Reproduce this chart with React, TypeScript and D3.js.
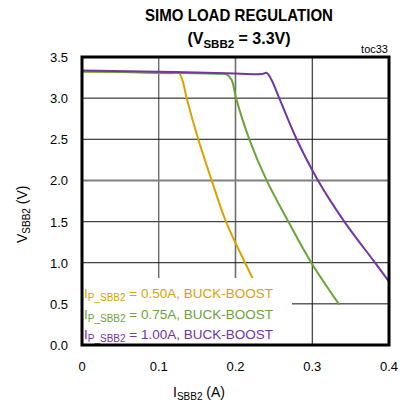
import React from "react";
import * as d3 from "d3";

const xTicks = [0, 0.1, 0.2, 0.3, 0.4];
const yTicks = [0, 0.5, 1.0, 1.5, 2.0, 2.5, 3.0, 3.5];

const i050 = [0, 0.05, 0.1, 0.118, 0.1255, 0.1308, 0.1364, 0.1515, 0.169, 0.1876, 0.2124, 0.2224];
const v050 = [3.322, 3.317, 3.307, 3.302, 3.316, 3.22, 3.0, 2.5, 2.0, 1.5, 1.0, 0.81];

const i075 = [0, 0.1, 0.18, 0.1885, 0.195, 0.2007, 0.218, 0.2406, 0.2688, 0.2988, 0.3353];
const v075 = [3.325, 3.31, 3.297, 3.29, 3.22, 3.0, 2.5, 2.0, 1.5, 1.0, 0.49];

const i100 = [0, 0.1, 0.2, 0.234, 0.2406, 0.247, 0.257, 0.2797, 0.3075, 0.3418, 0.3818, 0.4];
const v100 = [3.337, 3.32, 3.30, 3.292, 3.307, 3.22, 3.0, 2.5, 2.0, 1.5, 1.0, 0.77];

const seriesLabels = ["= 0.50A, BUCK-BOOST", "= 0.75A, BUCK-BOOST", "= 1.00A, BUCK-BOOST"];
const colors = ["#D9A300", "#6BA436", "#7334A4"];

export default function App() {
  const W = 400, H = 404;
  const x = d3.scaleLinear().domain([0, 0.4]).range([82, 389]);
  const y = d3.scaleLinear().domain([0, 3.5]).range([345, 57]);
  const line = d3
    .line<[number, number]>()
    .x((d) => x(d[0]))
    .y((d) => y(d[1]))
    .curve(d3.curveCatmullRom.alpha(0.5));
  const series = [
    { i: i050, v: v050 },
    { i: i075, v: v075 },
    { i: i100, v: v100 },
  ];
  const gridX: Record<string, [string, number]> = {
    "0.1": ["#555", 1.2],
    "0.2": ["#6e6e6e", 1.6],
    "0.3": ["#111", 1],
  };
  const gridY: Record<string, [string, number]> = {
    "0.5": ["#111", 1],
    "1.0": ["#111", 1],
    "1.5": ["#444", 1.2],
    "2.0": ["#808080", 2],
    "2.5": ["#111", 1],
    "3.0": ["#111", 1],
  };
  const font = "'Liberation Sans', Arial, sans-serif";
  return (
    <svg width={W} height={H} style={{ position: "absolute", left: 0, top: 0 }} fontFamily={font}>
      <rect width={W} height={H} fill="#fff" />
      <text x={239} y={21} textAnchor="middle" fontSize={17} fontWeight="bold" textLength={188} lengthAdjust="spacingAndGlyphs">
        SIMO LOAD REGULATION
      </text>
      <text x={239} y={44} textAnchor="middle" fontSize={16} fontWeight="bold">
        (V<tspan fontSize={11.5} dy={4}>SBB2</tspan>
        <tspan dy={-4}> = 3.3V)</tspan>
      </text>
      <text x={388} y={53} textAnchor="end" fontSize={11}>
        toc33
      </text>
      {/* grid */}
      {xTicks.slice(1, -1).map((t) => {
        const [c, w] = gridX[t.toFixed(1)];
        return <line key={"gx" + t} x1={x(t)} x2={x(t)} y1={y(3.5)} y2={y(0)} stroke={c} strokeWidth={w} />;
      })}
      {yTicks.slice(1, -1).map((t) => {
        const [c, w] = gridY[t.toFixed(1)];
        return <line key={"gy" + t} x1={x(0)} x2={x(0.4)} y1={y(t)} y2={y(t)} stroke={c} strokeWidth={w} />;
      })}
      {series.map((s, k) => (
        <path
          key={"s" + k}
          d={line(s.i.map((d, j) => [d, s.v[j]] as [number, number])) || ""}
          fill="none"
          stroke={colors[k]}
          strokeWidth={2}
          strokeLinejoin="round"
        />
      ))}
      {/* legend */}
      <rect x={x(0) + 1} y={278} width={292 - x(0) - 1} height={y(0) - 278} fill="#fff" />
      {seriesLabels.map((lab, k) => (
        <text key={"l" + k} x={84} y={298 + k * 20.5} fontSize={13.5} fill={colors[k]}>
          I<tspan fontSize={10} dy={3}>P_SBB2</tspan>
          <tspan dy={-3}> {lab}</tspan>
        </text>
      ))}
      {/* frame */}
      <rect x={x(0)} y={y(3.5)} width={x(0.4) - x(0)} height={y(0) - y(3.5)} fill="none" stroke="#000" strokeWidth={3} />
      {/* ticks */}
      {yTicks.map((t) => (
        <text key={"yt" + t} x={68} y={y(t) + 5} textAnchor="end" fontSize={13}>
          {t.toFixed(1)}
        </text>
      ))}
      {xTicks.map((t) => (
        <text key={"xt" + t} x={x(t)} y={371} textAnchor="middle" fontSize={13}>
          {t === 0 ? "0" : t.toFixed(1)}
        </text>
      ))}
      <text x={173} y={397} fontSize={14}>
        I<tspan fontSize={10} dy={3}>SBB2</tspan>
        <tspan dy={-3}> (A)</tspan>
      </text>
      <text transform="translate(27,243) rotate(-90)" fontSize={14}>
        V<tspan fontSize={10} dy={3}>SBB2</tspan>
        <tspan dy={-3}> (V)</tspan>
      </text>
    </svg>
  );
}
